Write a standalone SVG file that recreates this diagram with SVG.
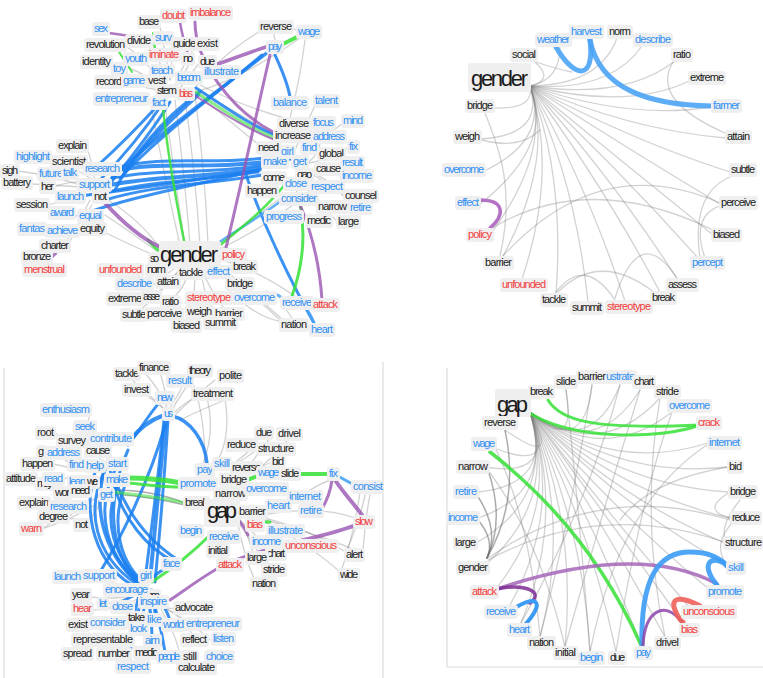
<svg xmlns="http://www.w3.org/2000/svg" width="763" height="678" viewBox="0 0 763 678">
<style>
text{font-family:"Liberation Sans",Arial,sans-serif;font-size:11px}
.bx{fill:#efefef;rx:3px;ry:3px}
.k{fill:#1a1a1a}.u{fill:#2f90f3}.r{fill:#f23c3c}
.big{font-size:22px}
.e path{fill:none;stroke-linecap:round}
.gy{stroke:#7d7d7d;stroke-opacity:.35;stroke-width:1.3}
.gd{stroke:#666;stroke-opacity:.55;stroke-width:1.5}
.bl{stroke:#1a7ff0;stroke-opacity:.85;stroke-width:3}
.lb{stroke:#4aa3f5;stroke-opacity:.85;stroke-width:3}
.gr{stroke:#35e035;stroke-opacity:.85;stroke-width:3}
.pu{stroke:#9a55b2;stroke-opacity:.8;stroke-width:3}
.rd{stroke:#f0605a;stroke-opacity:.9;stroke-width:5}
.frame{stroke:#dcdcdc;stroke-width:1.2}
</style>
<rect width="763" height="678" fill="#fff"/>
<g id="frames" class="frame">
<line x1="4" y1="368" x2="4" y2="678"/>
<line x1="383" y1="362" x2="383" y2="678"/>
<line x1="447" y1="368" x2="447" y2="667"/>
<line x1="447" y1="667" x2="763" y2="667"/>
</g>

<!-- ================= CONNECTORS ================= -->
<g id="connectors" class="e">
<!-- top-left gray -->
<g class="gy">
<path d="M165,105 Q175,180 185,245"/><path d="M175,100 Q185,180 190,245"/><path d="M185,98 Q195,170 200,245"/><path d="M150,100 Q165,180 180,245"/><path d="M195,95 Q205,170 208,245"/>
<path d="M108,200 Q140,220 160,248"/><path d="M105,215 Q135,235 158,252"/><path d="M100,230 Q130,245 156,256"/>
<path d="M80,185 Q50,175 18,171"/><path d="M80,187 Q55,185 31,184"/><path d="M85,195 Q65,200 48,205"/><path d="M90,200 Q75,230 69,244"/><path d="M92,205 Q70,240 52,255"/><path d="M95,180 Q90,155 87,148"/><path d="M90,178 Q70,165 50,158"/><path d="M95,182 Q70,180 54,187"/>
<path d="M185,266 Q170,280 160,290"/><path d="M190,266 Q185,290 170,300"/><path d="M195,266 Q195,300 190,320"/><path d="M200,266 Q210,290 225,310"/><path d="M205,266 Q220,275 240,282"/><path d="M182,266 Q160,295 140,310"/><path d="M178,266 Q150,285 145,296"/><path d="M200,266 Q205,300 215,320"/><path d="M175,266 Q160,272 150,275"/>
<path d="M218,248 Q250,220 285,195"/><path d="M218,250 Q260,230 300,200"/><path d="M215,262 Q250,290 283,320"/><path d="M215,258 Q260,270 300,300"/>
<path d="M195,88 Q240,115 275,135"/><path d="M195,92 Q235,125 265,150"/><path d="M200,85 Q250,110 300,122"/>
<path d="M111,62 Q140,70 160,85"/><path d="M122,82 Q140,86 157,90"/><path d="M125,45 Q145,60 160,80"/><path d="M151,41 Q160,60 165,80"/><path d="M159,22 Q165,50 170,80"/><path d="M173,44 Q172,60 170,80"/><path d="M197,44 Q185,60 175,85"/><path d="M200,62 Q190,75 180,88"/><path d="M193,59 Q185,70 178,85"/>
<path d="M262,30 Q220,55 195,88"/><path d="M300,38 Q240,80 195,92"/><path d="M305,40 Q300,80 290,118"/><path d="M292,28 Q298,30 300,32"/><path d="M276,41 Q272,35 276,30"/>
<path d="M300,160 Q320,140 343,123"/><path d="M300,165 Q330,160 349,147"/><path d="M305,170 Q330,185 345,196"/><path d="M300,180 Q320,205 338,222"/><path d="M295,185 Q300,205 307,221"/><path d="M300,170 Q330,175 350,205"/><path d="M305,165 Q325,150 318,138"/><path d="M290,160 Q300,140 315,105"/>
<path d="M282,303 Q290,315 295,323"/><path d="M258,300 Q275,315 282,322"/><path d="M230,292 Q260,320 285,322"/>
</g>
<!-- top-left blue -->
<g class="bl">
<path d="M160,103 C140,125 115,150 95,168"/><path d="M165,100 C145,130 120,160 100,180"/><path d="M170,102 C150,135 125,165 108,186"/>
<path d="M198,95 C170,120 140,150 125,172" stroke-width="4"/><path d="M200,92 C160,120 130,160 115,190"/>
<path d="M268,52 C220,90 150,140 110,180" stroke-width="3.5"/><path d="M262,55 C215,95 160,135 120,178"/>
<path d="M110,172 C160,160 200,170 265,162" stroke-width="4"/><path d="M112,178 C160,168 210,175 262,165"/><path d="M110,185 C160,175 210,178 260,168" stroke-width="4"/><path d="M108,192 C160,180 205,180 258,172"/><path d="M105,200 C155,185 200,185 262,175"/><path d="M115,168 C165,155 205,165 265,158"/><path d="M78,216 C120,200 170,190 260,170"/><path d="M75,197 C120,190 170,185 258,170"/>
<path d="M245,172 C265,230 290,280 315,325"/>
<path d="M275,55 C282,70 288,85 290,97"/>
<path d="M196,88 C230,110 250,125 275,135"/>
<path d="M265,162 C275,160 290,158 300,160"/>
</g>
<g class="lb">
<path d="M218,243 C245,225 270,210 285,198" stroke-width="2.5"/>
<path d="M255,295 C265,290 275,292 282,298"/><path d="M303,305 C310,312 313,320 315,326"/>
</g>
<g class="gr">
<path d="M163,108 C168,160 178,210 185,246" stroke-width="2.5"/>
<path d="M281,45 L299,36" stroke-width="4"/>
<path d="M300,203 C305,230 305,260 292,296"/>
<path d="M220,245 C245,225 270,205 290,178" stroke-width="2.5"/>
<path d="M117,48 C122,58 128,65 132,72" stroke-width="2"/>
<path d="M153,33 L155,48" stroke-width="2"/>
<path d="M196,92 C230,115 250,128 275,138" stroke-opacity=".6"/>
<path d="M148,240 C152,245 155,248 158,250"/>
</g>
<g class="pu">
<path d="M195,22 C195,60 230,110 275,133"/>
<path d="M215,65 C235,58 250,52 266,47" stroke-width="3.5"/>
<path d="M270,55 C255,120 240,190 225,252"/>
<path d="M105,203 C125,225 145,240 160,247" stroke-width="4"/>
<path d="M108,33 C125,35 140,38 155,38" stroke-width="2.5"/>
<path d="M180,22 C182,35 185,45 188,54" stroke-width="2.5"/>
<path d="M300,205 C315,240 320,270 322,300"/>
<path d="M194,95 C230,118 250,130 275,140" stroke-width="2"/>
<path d="M50,259 L56,253" stroke-width="3"/>
</g>

<!-- top-right -->
<g class="gy">
<path d="M530,86 Q555,80 535,62"/><path d="M530,86 Q600,85 617,38"/><path d="M530,86 Q610,92 642,46"/><path d="M530,86 Q625,100 675,61"/><path d="M530,86 Q630,110 689,81"/><path d="M530,86 Q630,120 711,107"/><path d="M530,86 Q630,130 726,138"/><path d="M530,86 Q630,140 730,172"/><path d="M530,86 Q630,150 720,204"/><path d="M530,86 Q620,160 712,234"/><path d="M530,86 Q615,165 698,258"/><path d="M530,86 Q610,175 678,280"/><path d="M530,86 Q600,180 660,292"/><path d="M530,86 Q585,180 625,301"/><path d="M530,86 Q575,180 588,302"/><path d="M530,86 Q565,175 556,294"/><path d="M530,86 Q558,170 522,279"/><path d="M530,86 Q555,160 502,258"/><path d="M530,86 Q552,150 492,232"/><path d="M530,86 Q555,145 480,204"/><path d="M530,86 Q550,140 484,171"/><path d="M530,86 Q545,135 481,139"/><path d="M530,86 Q535,110 492,108"/><path d="M530,86 Q560,80 560,47"/>
<path d="M485,113 C500,150 515,190 500,256"/><path d="M673,62 Q650,100 725,133"/><path d="M492,228 Q590,170 713,230"/><path d="M503,256 Q600,150 720,203"/><path d="M556,292 Q585,255 615,300"/><path d="M558,292 Q600,250 655,293"/><path d="M615,298 Q640,220 678,280"/><path d="M735,175 Q690,190 700,258"/><path d="M722,205 Q690,215 705,258"/><path d="M482,140 Q520,150 540,130"/><path d="M536,62 Q560,70 572,72"/>
</g>
<path d="M556,47 C575,80 595,80 590,40" stroke="#4aa3f5" stroke-opacity=".9" stroke-width="5"/>
<path d="M590,40 C600,90 650,105 712,106" stroke="#4aa3f5" stroke-opacity=".9" stroke-width="5"/>
<path d="M480,200 C505,200 505,215 490,228" stroke="#b472c4" stroke-width="3.5"/>

<!-- bottom-left gray -->
<g class="gy">
<path d="M127,376 Q150,395 165,410"/><path d="M145,373 Q160,390 167,408"/><path d="M160,372 Q165,390 168,405"/><path d="M185,382 Q178,395 170,408"/><path d="M195,375 Q180,395 172,410"/><path d="M200,395 Q185,402 175,412"/><path d="M215,380 Q190,400 176,414"/><path d="M230,398 Q200,410 180,420"/><path d="M140,392 Q155,400 165,410"/><path d="M205,392 C215,420 210,450 200,470"/><path d="M225,398 C230,430 225,450 215,465"/><path d="M190,375 C200,400 205,430 205,462"/>
<path d="M54,433 Q75,440 90,450"/><path d="M53,464 Q70,468 85,470"/><path d="M36,479 Q60,478 80,478"/><path d="M49,503 Q70,495 90,490"/><path d="M68,517 Q85,505 100,495"/><path d="M88,525 Q95,510 105,497"/><path d="M42,529 Q70,520 95,505"/><path d="M50,453 Q60,455 69,463"/><path d="M42,529 Q60,515 88,520"/><path d="M90,413 Q85,430 90,445"/>
<path d="M230,468 Q250,455 258,449"/><path d="M256,445 Q245,455 232,465"/><path d="M272,462 Q265,465 260,467"/><path d="M272,436 Q260,450 250,465"/><path d="M290,437 Q275,455 262,466"/>
<path d="M265,518 Q310,530 346,552"/><path d="M265,522 Q310,545 340,572"/><path d="M262,515 Q320,505 355,518"/><path d="M265,520 Q320,535 355,550"/><path d="M340,575 Q355,530 360,492"/><path d="M346,552 Q360,520 365,495"/><path d="M363,552 Q365,520 370,495"/><path d="M290,505 Q320,480 340,478"/>
<path d="M240,520 Q250,540 255,560"/><path d="M240,525 Q255,545 265,565"/><path d="M237,520 Q245,560 255,580"/><path d="M240,520 Q262,540 270,555"/>
<path d="M145,590 Q125,600 107,604"/><path d="M140,595 Q110,600 90,597"/><path d="M140,598 Q115,610 92,610"/><path d="M150,600 Q165,610 175,608"/><path d="M150,600 Q185,615 195,640"/><path d="M155,600 Q175,630 180,655"/><path d="M150,602 Q145,630 145,650"/><path d="M150,600 Q190,620 210,640"/>
</g>
<g class="gd">
<path d="M113,490 C140,490 165,495 185,503"/><path d="M113,494 C140,496 165,500 185,505"/>
</g>
<g class="bl">
<path d="M130,440 C140,428 150,420 162,416" stroke-width="4"/><path d="M128,445 C140,430 152,410 160,402"/>
<path d="M172,416 C190,420 205,440 207,464" stroke-width="3.5"/>
<path d="M166,420 C160,470 155,530 150,580" stroke-width="4"/><path d="M168,420 C165,470 160,530 155,582"/><path d="M164,420 C158,480 150,540 145,580"/>
<path d="M110,455 C90,500 100,550 140,585" stroke-width="3.5"/><path d="M115,470 C95,510 105,555 142,586"/><path d="M120,480 C100,520 115,560 145,585"/><path d="M105,470 C85,510 95,555 135,583"/><path d="M125,485 C110,525 120,565 148,586"/><path d="M100,460 C80,500 90,560 132,585"/><path d="M128,450 C105,500 110,555 140,583"/>
<path d="M115,480 C130,520 155,545 178,560"/><path d="M165,425 C150,480 120,540 100,572"/><path d="M110,470 C120,520 150,550 175,562"/>
<path d="M140,590 Q135,615 130,625"/><path d="M145,592 Q145,610 140,628"/><path d="M148,592 Q152,620 152,640"/><path d="M150,592 Q160,620 165,652"/><path d="M152,590 Q165,605 170,620"/><path d="M145,592 Q130,630 130,662"/><path d="M145,590 Q125,600 115,605"/><path d="M150,590 Q155,600 155,615"/>
<path d="M150,580 C160,570 170,565 175,566"/>
</g>
<g class="gr">
<path d="M128,478 C150,478 165,480 182,483" stroke-width="5"/><path d="M128,483 C150,485 165,487 182,487"/>
<path d="M113,492 C140,495 165,498 185,503" stroke-opacity=".55"/>
<path d="M247,480 L258,476" stroke-width="4"/>
<path d="M299,474 L329,474" stroke-width="4"/>
<path d="M152,582 C170,570 190,555 208,537"/>
<path d="M262,522 L270,522"/>
</g>
<path d="M338,476 C345,480 350,483 355,485" stroke="#5aaef7" stroke-width="3"/>
<g class="pu">
<path d="M335,480 C345,495 355,505 362,515" stroke-width="4"/>
<path d="M332,480 C330,495 325,505 318,515"/>
<path d="M356,525 C330,535 300,540 280,546" stroke-width="4"/>
<path d="M285,545 C260,550 240,558 222,565"/>
<path d="M222,566 C205,575 185,590 170,600"/>
<path d="M238,520 C243,525 246,530 248,535"/>
</g>

<!-- bottom-right -->
<g class="gy">
<path d="M530,412 Q577,455 566,390"/><path d="M530,412 Q584,458 592,385"/><path d="M530,412 Q591,458 620,385"/><path d="M530,412 Q596,460 640,390"/><path d="M530,412 Q601,462 660,398"/><path d="M530,412 Q604,465 672,412"/><path d="M530,412 Q613,473 708,443"/><path d="M530,412 Q618,479 728,467"/><path d="M530,412 Q618,485 728,492"/><path d="M530,412 Q618,492 730,518"/><path d="M530,412 Q617,498 725,543"/><path d="M530,412 Q618,505 728,565"/><path d="M530,412 Q613,510 710,590"/><path d="M530,412 Q608,514 690,608"/><path d="M530,412 Q607,518 685,625"/><path d="M530,412 Q602,521 665,637"/><path d="M530,412 Q596,524 642,648"/><path d="M530,412 Q590,525 616,652"/><path d="M530,412 Q583,525 590,652"/><path d="M530,412 Q577,524 565,647"/><path d="M530,412 Q571,521 540,637"/><path d="M530,412 Q566,518 520,625"/><path d="M530,412 Q563,510 510,605"/><path d="M530,412 Q560,510 495,590"/><path d="M530,412 Q557,503 485,565"/><path d="M530,412 Q555,498 476,543"/><path d="M530,412 Q555,492 478,518"/><path d="M530,412 Q555,485 477,492"/><path d="M530,412 Q557,479 485,467"/><path d="M530,412 Q562,470 505,430"/><path d="M530,412 Q560,475 492,447"/>
<path d="M488,560 Q600,500 724,542"/><path d="M488,558 Q600,480 730,520"/><path d="M495,447 Q530,520 540,637"/><path d="M488,470 Q540,540 565,647"/><path d="M730,492 Q700,510 730,518"/><path d="M740,500 Q720,525 725,540"/><path d="M735,520 Q710,545 728,566"/><path d="M728,467 Q650,480 620,520"/><path d="M710,443 Q620,500 590,652"/><path d="M672,412 Q640,500 616,652"/><path d="M660,398 Q640,520 665,637"/><path d="M640,390 Q600,520 565,647"/><path d="M592,385 Q570,520 540,637"/><path d="M566,390 Q580,520 590,652"/><path d="M620,385 Q590,500 520,625"/>
</g>
<g class="gd">
<path d="M505,430 Q520,500 487,558"/><path d="M488,470 Q505,520 487,558"/><path d="M478,520 Q495,540 487,558"/><path d="M477,495 Q500,530 487,558"/>
</g>
<g class="gr" stroke-width="4">
<path d="M528,412 C570,440 660,440 700,425"/>
<path d="M548,400 C560,420 590,430 700,425"/>
<path d="M490,452 Q590,530 641,645" stroke-width="3.5"/>
</g>
<path d="M497,589 C560,568 650,548 717,584" stroke="#a566b9" stroke-opacity=".85" stroke-width="3.5"/>
<path d="M497,589 C525,583 545,592 530,603" stroke="#7d2b94" stroke-opacity=".85" stroke-width="3.5"/>
<path d="M515,608 C535,595 548,600 523,627" stroke="#3d9cf5" stroke-width="4"/>
<path d="M642,648 C640,575 660,552 690,552 C710,552 720,558 727,566" stroke="#3d9cf5" stroke-opacity=".9" stroke-width="5"/>
<path d="M717,585 C700,565 710,553 727,565" stroke="#3d9cf5" stroke-opacity=".9" stroke-width="5"/>
<path d="M643,645 C645,610 665,600 682,622" stroke="#8d45aa" stroke-opacity=".85" stroke-width="3"/>
<path d="M700,606 C680,595 670,598 675,610 C678,618 682,622 683,622" class="rd"/>
</g>

<!-- ================= NODES: top-left ================= -->
<g id="tl-nodes">
<g id="tl-sex"><rect class="bx" x="92" y="22" width="18" height="14"/><text class="u" x="94" y="32" textLength="14">sex</text></g>
<g id="tl-base"><rect class="bx" x="137" y="15" width="24" height="14"/><text class="k" x="139" y="25" textLength="20">base</text></g>
<g id="tl-doubt"><rect class="bx" x="160" y="9" width="27" height="14"/><text class="r" x="162" y="19" textLength="23">doubt</text></g>
<g id="tl-imbalance"><rect class="bx" x="188" y="6" width="45" height="14"/><text class="r" x="190" y="16" textLength="41">imbalance</text></g>
<g id="tl-revolution"><rect class="bx" x="84" y="38" width="43" height="14"/><text class="k" x="86" y="48" textLength="39">revolution</text></g>
<g id="tl-divide"><rect class="bx" x="125" y="34" width="28" height="14"/><text class="k" x="127" y="44" textLength="24">divide</text></g>
<g id="tl-survey"><rect class="bx" x="153" y="31" width="21" height="14"/><text class="u" x="155" y="41" textLength="17">surv</text></g>
<g id="tl-guide"><rect class="bx" x="171" y="37" width="27" height="14"/><text class="k" x="173" y="47" textLength="23">guide</text></g>
<g id="tl-exist"><rect class="bx" x="195" y="37" width="25" height="14"/><text class="k" x="197" y="47" textLength="21">exist</text></g>
<g id="tl-eliminate"><rect class="bx" x="147" y="48" width="34" height="14"/><text class="r" x="149" y="58" textLength="30">iminate</text></g>
<g id="tl-no"><rect class="bx" x="181" y="52" width="14" height="14"/><text class="k" x="183" y="62" textLength="10">no</text></g>
<g id="tl-due"><rect class="bx" x="198" y="55" width="19" height="14"/><text class="k" x="200" y="65" textLength="15">due</text></g>
<g id="tl-youth"><rect class="bx" x="123" y="52" width="26" height="14"/><text class="u" x="125" y="62" textLength="22">youth</text></g>
<g id="tl-identity"><rect class="bx" x="80" y="55" width="33" height="14"/><text class="k" x="82" y="65" textLength="29">identity</text></g>
<g id="tl-toy"><rect class="bx" x="111" y="62" width="17" height="14"/><text class="u" x="113" y="72" textLength="13">toy</text></g>
<g id="tl-teach"><rect class="bx" x="149" y="64" width="26" height="14"/><text class="u" x="151" y="74" textLength="22">teach</text></g>
<g id="tl-become"><rect class="bx" x="175" y="71" width="28" height="14"/><text class="u" x="177" y="81" textLength="24">becom</text></g>
<g id="tl-illustrate"><rect class="bx" x="202" y="65" width="39" height="14"/><text class="u" x="204" y="75" textLength="35">illustrate</text></g>
<g id="tl-record"><rect class="bx" x="94" y="75" width="30" height="14"/><text class="k" x="96" y="85" textLength="26">record</text></g>
<g id="tl-invest"><rect class="bx" x="146" y="74" width="22" height="14"/><text class="k" x="148" y="84" textLength="18">vest</text></g>
<g id="tl-game"><rect class="bx" x="121" y="74" width="26" height="14"/><text class="u" x="123" y="84" textLength="22">game</text></g>
<g id="tl-stem"><rect class="bx" x="155" y="84" width="24" height="14"/><text class="k" x="157" y="94" textLength="20">stem</text></g>
<g id="tl-bias"><rect class="bx" x="177" y="87" width="18" height="14"/><text class="r" x="179" y="97" textLength="14">bias</text></g>
<g id="tl-entrepreneur"><rect class="bx" x="93" y="92" width="57" height="14"/><text class="u" x="95" y="102" textLength="53">entrepreneur</text></g>
<g id="tl-fact"><rect class="bx" x="150" y="96" width="18" height="14"/><text class="u" x="152" y="106" textLength="14">fact</text></g>
<g id="tl-reverse"><rect class="bx" x="258" y="20" width="36" height="14"/><text class="k" x="260" y="30" textLength="32">reverse</text></g>
<g id="tl-wage"><rect class="bx" x="296" y="25" width="26" height="14"/><text class="u" x="298" y="35" textLength="22">wage</text></g>
<g id="tl-pay"><rect class="bx" x="266" y="40" width="18" height="14"/><text class="u" x="268" y="50" textLength="14">pay</text></g>
<g id="tl-balance"><rect class="bx" x="271" y="96" width="38" height="14"/><text class="u" x="273" y="106" textLength="34">balance</text></g>
<g id="tl-talent"><rect class="bx" x="313" y="94" width="27" height="14"/><text class="u" x="315" y="104" textLength="23">talent</text></g>
<g id="tl-diverse"><rect class="bx" x="277" y="117" width="34" height="14"/><text class="k" x="279" y="127" textLength="30">diverse</text></g>
<g id="tl-focus"><rect class="bx" x="311" y="116" width="25" height="14"/><text class="u" x="313" y="126" textLength="21">focus</text></g>
<g id="tl-mind"><rect class="bx" x="341" y="114" width="24" height="14"/><text class="u" x="343" y="124" textLength="20">mind</text></g>
<g id="tl-increase"><rect class="bx" x="273" y="129" width="40" height="14"/><text class="k" x="275" y="139" textLength="36">increase</text></g>
<g id="tl-address"><rect class="bx" x="311" y="130" width="36" height="14"/><text class="u" x="313" y="140" textLength="32">address</text></g>
<g id="tl-need"><rect class="bx" x="256" y="141" width="25" height="14"/><text class="k" x="258" y="151" textLength="21">need</text></g>
<g id="tl-find"><rect class="bx" x="300" y="141" width="19" height="14"/><text class="u" x="302" y="151" textLength="15">find</text></g>
<g id="tl-girl"><rect class="bx" x="279" y="145" width="17" height="14"/><text class="u" x="281" y="155" textLength="13">girl</text></g>
<g id="tl-fix"><rect class="bx" x="347" y="140" width="13" height="14"/><text class="u" x="349" y="150" textLength="9">fix</text></g>
<g id="tl-global"><rect class="bx" x="317" y="147" width="29" height="14"/><text class="k" x="319" y="157" textLength="25">global</text></g>
<g id="tl-make"><rect class="bx" x="261" y="155" width="28" height="14"/><text class="u" x="263" y="165" textLength="24">make</text></g>
<g id="tl-get"><rect class="bx" x="291" y="155" width="18" height="14"/><text class="u" x="293" y="165" textLength="14">get</text></g>
<g id="tl-result"><rect class="bx" x="340" y="156" width="25" height="14"/><text class="u" x="342" y="166" textLength="21">result</text></g>
<g id="tl-cause"><rect class="bx" x="314" y="162" width="29" height="14"/><text class="k" x="316" y="172" textLength="25">cause</text></g>
<g id="tl-gap"><rect class="bx" x="295" y="168" width="19" height="14"/><text class="k" x="297" y="178" textLength="15">gap</text></g>
<g id="tl-income"><rect class="bx" x="340" y="169" width="34" height="14"/><text class="u" x="342" y="179" textLength="30">income</text></g>
<g id="tl-come"><rect class="bx" x="261" y="171" width="26" height="14"/><text class="k" x="263" y="181" textLength="22">come</text></g>
<g id="tl-close"><rect class="bx" x="283" y="177" width="26" height="14"/><text class="u" x="285" y="187" textLength="22">close</text></g>
<g id="tl-respect"><rect class="bx" x="309" y="180" width="36" height="14"/><text class="u" x="311" y="190" textLength="32">respect</text></g>
<g id="tl-happen"><rect class="bx" x="245" y="184" width="34" height="14"/><text class="k" x="247" y="194" textLength="30">happen</text></g>
<g id="tl-counsel"><rect class="bx" x="343" y="189" width="36" height="14"/><text class="k" x="345" y="199" textLength="32">counsel</text></g>
<g id="tl-consider"><rect class="bx" x="279" y="192" width="40" height="14"/><text class="u" x="281" y="202" textLength="36">consider</text></g>
<g id="tl-narrow"><rect class="bx" x="316" y="200" width="33" height="14"/><text class="k" x="318" y="210" textLength="29">narrow</text></g>
<g id="tl-retire"><rect class="bx" x="348" y="201" width="25" height="14"/><text class="u" x="350" y="211" textLength="21">retire</text></g>
<g id="tl-progress"><rect class="bx" x="264" y="210" width="40" height="14"/><text class="u" x="266" y="220" textLength="36">progress</text></g>
<g id="tl-medic"><rect class="bx" x="305" y="214" width="28" height="14"/><text class="k" x="307" y="224" textLength="24">medic</text></g>
<g id="tl-large"><rect class="bx" x="336" y="215" width="25" height="14"/><text class="k" x="338" y="225" textLength="21">large</text></g>
<g id="tl-explain"><rect class="bx" x="56" y="139" width="33" height="14"/><text class="k" x="58" y="149" textLength="29">explain</text></g>
<g id="tl-highlight"><rect class="bx" x="14" y="150" width="38" height="14"/><text class="u" x="16" y="160" textLength="34">highlight</text></g>
<g id="tl-scientist"><rect class="bx" x="50" y="155" width="38" height="14"/><text class="k" x="52" y="165" textLength="34">scientist</text></g>
<g id="tl-research"><rect class="bx" x="83" y="162" width="39" height="14"/><text class="u" x="85" y="172" textLength="35">research</text></g>
<g id="tl-sigh"><rect class="bx" x="0" y="164" width="20" height="14"/><text class="k" x="2" y="174" textLength="16">sigh</text></g>
<g id="tl-future"><rect class="bx" x="37" y="167" width="28" height="14"/><text class="u" x="39" y="177" textLength="24">future</text></g>
<g id="tl-talk"><rect class="bx" x="61" y="166" width="18" height="14"/><text class="u" x="63" y="176" textLength="14">talk</text></g>
<g id="tl-battery"><rect class="bx" x="1" y="176" width="32" height="14"/><text class="k" x="3" y="186" textLength="28">battery</text></g>
<g id="tl-her"><rect class="bx" x="39" y="180" width="17" height="14"/><text class="k" x="41" y="190" textLength="13">her</text></g>
<g id="tl-support"><rect class="bx" x="77" y="178" width="35" height="14"/><text class="u" x="79" y="188" textLength="31">support</text></g>
<g id="tl-launch"><rect class="bx" x="55" y="190" width="31" height="14"/><text class="u" x="57" y="200" textLength="27">launch</text></g>
<g id="tl-not"><rect class="bx" x="92" y="190" width="17" height="14"/><text class="k" x="94" y="200" textLength="13">not</text></g>
<g id="tl-session"><rect class="bx" x="14" y="198" width="36" height="14"/><text class="k" x="16" y="208" textLength="32">session</text></g>
<g id="tl-award"><rect class="bx" x="48" y="206" width="28" height="14"/><text class="u" x="50" y="216" textLength="24">award</text></g>
<g id="tl-equal"><rect class="bx" x="77" y="209" width="27" height="14"/><text class="u" x="79" y="219" textLength="23">equal</text></g>
<g id="tl-fantasy"><rect class="bx" x="17" y="222" width="30" height="14"/><text class="u" x="19" y="232" textLength="26">fantas</text></g>
<g id="tl-achieve"><rect class="bx" x="45" y="224" width="35" height="14"/><text class="u" x="47" y="234" textLength="31">achieve</text></g>
<g id="tl-equity"><rect class="bx" x="78" y="222" width="29" height="14"/><text class="k" x="80" y="232" textLength="25">equity</text></g>
<g id="tl-charter"><rect class="bx" x="39" y="239" width="32" height="14"/><text class="k" x="41" y="249" textLength="28">charter</text></g>
<g id="tl-bronze"><rect class="bx" x="21" y="250" width="32" height="14"/><text class="k" x="23" y="260" textLength="28">bronze</text></g>
<g id="tl-menstrual"><rect class="bx" x="22" y="263" width="45" height="14"/><text class="r" x="24" y="273" textLength="41">menstrual</text></g>
<g id="tl-social"><rect class="bx" x="148" y="252" width="13" height="14"/><text class="k" x="150" y="262" textLength="9">so</text></g>
<g id="tl-gender"><rect class="bx" x="159" y="241" width="62" height="28"/><text class="k big" x="160" y="262" textLength="58">gender</text></g>
<g id="tl-policy"><rect class="bx" x="220" y="248" width="27" height="14"/><text class="r" x="222" y="258" textLength="23">policy</text></g>
<g id="tl-break"><rect class="bx" x="231" y="260" width="27" height="14"/><text class="k" x="233" y="270" textLength="23">break</text></g>
<g id="tl-unfounded"><rect class="bx" x="97" y="263" width="47" height="14"/><text class="r" x="99" y="273" textLength="43">unfounded</text></g>
<g id="tl-norm"><rect class="bx" x="145" y="263" width="23" height="14"/><text class="k" x="147" y="273" textLength="19">norm</text></g>
<g id="tl-tackle"><rect class="bx" x="177" y="266" width="28" height="14"/><text class="k" x="179" y="276" textLength="24">tackle</text></g>
<g id="tl-effect"><rect class="bx" x="205" y="265" width="27" height="14"/><text class="u" x="207" y="275" textLength="23">effect</text></g>
<g id="tl-describe"><rect class="bx" x="115" y="277" width="39" height="14"/><text class="u" x="117" y="287" textLength="35">describe</text></g>
<g id="tl-attain"><rect class="bx" x="155" y="275" width="26" height="14"/><text class="k" x="157" y="285" textLength="22">attain</text></g>
<g id="tl-bridge"><rect class="bx" x="225" y="277" width="30" height="14"/><text class="k" x="227" y="287" textLength="26">bridge</text></g>
<g id="tl-extreme"><rect class="bx" x="106" y="292" width="38" height="14"/><text class="k" x="108" y="302" textLength="34">extreme</text></g>
<g id="tl-assess"><rect class="bx" x="141" y="290" width="21" height="14"/><text class="k" x="143" y="300" textLength="17">asse</text></g>
<g id="tl-ratio"><rect class="bx" x="160" y="295" width="21" height="14"/><text class="k" x="162" y="305" textLength="17">ratio</text></g>
<g id="tl-stereotype"><rect class="bx" x="185" y="291" width="48" height="14"/><text class="r" x="187" y="301" textLength="44">stereotype</text></g>
<g id="tl-overcome"><rect class="bx" x="232" y="291" width="45" height="14"/><text class="u" x="234" y="301" textLength="41">overcome</text></g>
<g id="tl-receive"><rect class="bx" x="280" y="296" width="34" height="14"/><text class="u" x="282" y="306" textLength="30">receive</text></g>
<g id="tl-attack"><rect class="bx" x="311" y="298" width="29" height="14"/><text class="r" x="313" y="308" textLength="25">attack</text></g>
<g id="tl-subtle"><rect class="bx" x="120" y="308" width="28" height="14"/><text class="k" x="122" y="318" textLength="24">subtle</text></g>
<g id="tl-perceive"><rect class="bx" x="145" y="307" width="39" height="14"/><text class="k" x="147" y="317" textLength="35">perceive</text></g>
<g id="tl-weigh"><rect class="bx" x="185" y="305" width="29" height="14"/><text class="k" x="187" y="315" textLength="25">weigh</text></g>
<g id="tl-barrier"><rect class="bx" x="213" y="307" width="32" height="14"/><text class="k" x="215" y="317" textLength="28">barrier</text></g>
<g id="tl-biased"><rect class="bx" x="171" y="319" width="31" height="14"/><text class="k" x="173" y="329" textLength="27">biased</text></g>
<g id="tl-summit"><rect class="bx" x="203" y="316" width="35" height="14"/><text class="k" x="205" y="326" textLength="31">summit</text></g>
<g id="tl-nation"><rect class="bx" x="279" y="318" width="30" height="14"/><text class="k" x="281" y="328" textLength="26">nation</text></g>
<g id="tl-heart"><rect class="bx" x="309" y="323" width="26" height="14"/><text class="u" x="311" y="333" textLength="22">heart</text></g>
</g>

<!-- ================= NODES: top-right ================= -->
<g id="tr-nodes">
<g id="tr-weather"><rect class="bx" x="535" y="33" width="37" height="14"/><text class="u" x="537" y="43" textLength="33">weather</text></g>
<g id="tr-harvest"><rect class="bx" x="569" y="25" width="35" height="14"/><text class="u" x="571" y="35" textLength="31">harvest</text></g>
<g id="tr-norm"><rect class="bx" x="607" y="25" width="26" height="14"/><text class="k" x="609" y="35" textLength="22">norm</text></g>
<g id="tr-describe"><rect class="bx" x="633" y="33" width="40" height="14"/><text class="u" x="635" y="43" textLength="36">describe</text></g>
<g id="tr-social"><rect class="bx" x="510" y="48" width="28" height="14"/><text class="k" x="512" y="58" textLength="24">social</text></g>
<g id="tr-ratio"><rect class="bx" x="671" y="48" width="22" height="14"/><text class="k" x="673" y="58" textLength="18">ratio</text></g>
<g id="tr-gender"><rect class="bx" x="468" y="63" width="63" height="29"/><text class="k big" x="471" y="86" textLength="57">gender</text></g>
<g id="tr-extreme"><rect class="bx" x="688" y="71" width="38" height="14"/><text class="k" x="690" y="81" textLength="34">extreme</text></g>
<g id="tr-bridge"><rect class="bx" x="465" y="99" width="30" height="14"/><text class="k" x="467" y="109" textLength="26">bridge</text></g>
<g id="tr-farmer"><rect class="bx" x="711" y="99" width="31" height="14"/><text class="u" x="713" y="109" textLength="27">farmer</text></g>
<g id="tr-weigh"><rect class="bx" x="453" y="130" width="29" height="14"/><text class="k" x="455" y="140" textLength="25">weigh</text></g>
<g id="tr-attain"><rect class="bx" x="725" y="130" width="27" height="14"/><text class="k" x="727" y="140" textLength="23">attain</text></g>
<g id="tr-overcome"><rect class="bx" x="442" y="163" width="44" height="14"/><text class="u" x="444" y="173" textLength="40">overcome</text></g>
<g id="tr-subtle"><rect class="bx" x="729" y="163" width="28" height="14"/><text class="k" x="731" y="173" textLength="24">subtle</text></g>
<g id="tr-effect"><rect class="bx" x="455" y="196" width="26" height="14"/><text class="u" x="457" y="206" textLength="22">effect</text></g>
<g id="tr-perceive"><rect class="bx" x="719" y="196" width="39" height="14"/><text class="k" x="721" y="206" textLength="35">perceive</text></g>
<g id="tr-policy"><rect class="bx" x="466" y="228" width="28" height="14"/><text class="r" x="468" y="238" textLength="24">policy</text></g>
<g id="tr-biased"><rect class="bx" x="711" y="228" width="31" height="14"/><text class="k" x="713" y="238" textLength="27">biased</text></g>
<g id="tr-barrier"><rect class="bx" x="483" y="256" width="31" height="14"/><text class="k" x="485" y="266" textLength="27">barrier</text></g>
<g id="tr-percept"><rect class="bx" x="690" y="256" width="35" height="14"/><text class="u" x="692" y="266" textLength="31">percept</text></g>
<g id="tr-unfounded"><rect class="bx" x="500" y="278" width="48" height="14"/><text class="r" x="502" y="288" textLength="44">unfounded</text></g>
<g id="tr-assess"><rect class="bx" x="666" y="278" width="33" height="14"/><text class="k" x="668" y="288" textLength="29">assess</text></g>
<g id="tr-tackle"><rect class="bx" x="540" y="293" width="28" height="14"/><text class="k" x="542" y="303" textLength="24">tackle</text></g>
<g id="tr-break"><rect class="bx" x="650" y="291" width="27" height="14"/><text class="k" x="652" y="301" textLength="23">break</text></g>
<g id="tr-summit"><rect class="bx" x="570" y="301" width="34" height="14"/><text class="k" x="572" y="311" textLength="30">summit</text></g>
<g id="tr-stereotype"><rect class="bx" x="605" y="300" width="48" height="14"/><text class="r" x="607" y="310" textLength="44">stereotype</text></g>
</g>

<!-- ================= NODES: bottom-left ================= -->
<g id="bl-nodes">
<g id="bl-tackle"><rect class="bx" x="113" y="367" width="28" height="14"/><text class="k" x="115" y="377" textLength="24">tackle</text></g>
<g id="bl-finance"><rect class="bx" x="137" y="361" width="34" height="14"/><text class="k" x="139" y="371" textLength="30">finance</text></g>
<g id="bl-theory"><rect class="bx" x="187" y="364" width="26" height="14"/><text class="k" x="189" y="374" textLength="22">theory</text></g>
<g id="bl-polite"><rect class="bx" x="217" y="369" width="27" height="14"/><text class="k" x="219" y="379" textLength="23">polite</text></g>
<g id="bl-result"><rect class="bx" x="166" y="374" width="28" height="14"/><text class="u" x="168" y="384" textLength="24">result</text></g>
<g id="bl-invest"><rect class="bx" x="122" y="383" width="29" height="14"/><text class="k" x="124" y="393" textLength="25">invest</text></g>
<g id="bl-treatment"><rect class="bx" x="191" y="387" width="44" height="14"/><text class="k" x="193" y="397" textLength="40">treatment</text></g>
<g id="bl-new"><rect class="bx" x="155" y="391" width="20" height="14"/><text class="u" x="157" y="401" textLength="16">new</text></g>
<g id="bl-us"><rect class="bx" x="162" y="407" width="13" height="14"/><text class="u" x="164" y="417" textLength="9">us</text></g>
<g id="bl-enthusiasm"><rect class="bx" x="40" y="403" width="52" height="14"/><text class="u" x="42" y="413" textLength="48">enthusiasm</text></g>
<g id="bl-seek"><rect class="bx" x="73" y="420" width="24" height="14"/><text class="u" x="75" y="430" textLength="20">seek</text></g>
<g id="bl-root"><rect class="bx" x="35" y="426" width="21" height="14"/><text class="k" x="37" y="436" textLength="17">root</text></g>
<g id="bl-survey"><rect class="bx" x="56" y="434" width="32" height="14"/><text class="k" x="58" y="444" textLength="28">survey</text></g>
<g id="bl-contribute"><rect class="bx" x="88" y="432" width="46" height="14"/><text class="u" x="90" y="442" textLength="42">contribute</text></g>
<g id="bl-g"><rect class="bx" x="36" y="445" width="11" height="14"/><text class="k" x="38" y="455" textLength="7">g</text></g>
<g id="bl-address"><rect class="bx" x="45" y="446" width="37" height="14"/><text class="u" x="47" y="456" textLength="33">address</text></g>
<g id="bl-cause"><rect class="bx" x="84" y="444" width="28" height="14"/><text class="k" x="86" y="454" textLength="24">cause</text></g>
<g id="bl-happen"><rect class="bx" x="20" y="457" width="35" height="14"/><text class="k" x="22" y="467" textLength="31">happen</text></g>
<g id="bl-find"><rect class="bx" x="67" y="458" width="19" height="14"/><text class="u" x="69" y="468" textLength="15">find</text></g>
<g id="bl-help"><rect class="bx" x="84" y="459" width="22" height="14"/><text class="u" x="86" y="469" textLength="18">help</text></g>
<g id="bl-start"><rect class="bx" x="106" y="457" width="23" height="14"/><text class="u" x="108" y="467" textLength="19">start</text></g>
<g id="bl-attitude"><rect class="bx" x="4" y="472" width="34" height="14"/><text class="k" x="6" y="482" textLength="30">attitude</text></g>
<g id="bl-may"><rect class="bx" x="35" y="477" width="20" height="14"/><text class="k" x="37" y="487" textLength="16">may</text></g>
<g id="bl-read"><rect class="bx" x="42" y="472" width="23" height="14"/><text class="u" x="44" y="482" textLength="19">read</text></g>
<g id="bl-learn"><rect class="bx" x="67" y="475" width="21" height="14"/><text class="u" x="69" y="485" textLength="17">lean</text></g>
<g id="bl-we"><rect class="bx" x="85" y="475" width="15" height="14"/><text class="k" x="87" y="485" textLength="11">we</text></g>
<g id="bl-make"><rect class="bx" x="104" y="473" width="26" height="14"/><text class="u" x="106" y="483" textLength="22">make</text></g>
<g id="bl-work"><rect class="bx" x="53" y="486" width="19" height="14"/><text class="k" x="55" y="496" textLength="15">wor</text></g>
<g id="bl-need"><rect class="bx" x="69" y="484" width="23" height="14"/><text class="k" x="71" y="494" textLength="19">need</text></g>
<g id="bl-get"><rect class="bx" x="98" y="488" width="17" height="14"/><text class="u" x="100" y="498" textLength="13">get</text></g>
<g id="bl-explain"><rect class="bx" x="17" y="496" width="34" height="14"/><text class="k" x="19" y="506" textLength="30">explain</text></g>
<g id="bl-research"><rect class="bx" x="48" y="500" width="41" height="14"/><text class="u" x="50" y="510" textLength="37">research</text></g>
<g id="bl-degree"><rect class="bx" x="37" y="510" width="33" height="14"/><text class="k" x="39" y="520" textLength="29">degree</text></g>
<g id="bl-not"><rect class="bx" x="73" y="518" width="17" height="14"/><text class="k" x="75" y="528" textLength="13">not</text></g>
<g id="bl-warn"><rect class="bx" x="19" y="522" width="25" height="14"/><text class="r" x="21" y="532" textLength="21">warn</text></g>
<g id="bl-due"><rect class="bx" x="254" y="426" width="20" height="14"/><text class="k" x="256" y="436" textLength="16">due</text></g>
<g id="bl-drivel"><rect class="bx" x="276" y="427" width="27" height="14"/><text class="k" x="278" y="437" textLength="23">drivel</text></g>
<g id="bl-reduce"><rect class="bx" x="225" y="438" width="33" height="14"/><text class="k" x="227" y="448" textLength="29">reduce</text></g>
<g id="bl-structure"><rect class="bx" x="256" y="442" width="40" height="14"/><text class="k" x="258" y="452" textLength="36">structure</text></g>
<g id="bl-bid"><rect class="bx" x="270" y="455" width="16" height="14"/><text class="k" x="272" y="465" textLength="12">bid</text></g>
<g id="bl-reverse"><rect class="bx" x="230" y="461" width="33" height="14"/><text class="k" x="232" y="471" textLength="29">reverse</text></g>
<g id="bl-pay"><rect class="bx" x="195" y="463" width="20" height="14"/><text class="u" x="197" y="473" textLength="16">pay</text></g>
<g id="bl-skill"><rect class="bx" x="212" y="457" width="20" height="14"/><text class="u" x="214" y="467" textLength="16">skill</text></g>
<g id="bl-promote"><rect class="bx" x="178" y="477" width="40" height="14"/><text class="u" x="180" y="487" textLength="36">promote</text></g>
<g id="bl-bridge"><rect class="bx" x="219" y="473" width="30" height="14"/><text class="k" x="221" y="483" textLength="26">bridge</text></g>
<g id="bl-wage"><rect class="bx" x="256" y="466" width="25" height="14"/><text class="u" x="258" y="476" textLength="21">wage</text></g>
<g id="bl-slide"><rect class="bx" x="279" y="467" width="22" height="14"/><text class="k" x="281" y="477" textLength="18">slide</text></g>
<g id="bl-fix"><rect class="bx" x="327" y="467" width="13" height="14"/><text class="u" x="329" y="477" textLength="9">fix</text></g>
<g id="bl-consist"><rect class="bx" x="351" y="480" width="32" height="14"/><text class="u" x="353" y="490" textLength="30">consist</text></g>
<g id="bl-narrow"><rect class="bx" x="213" y="487" width="35" height="14"/><text class="k" x="215" y="497" textLength="31">narrow</text></g>
<g id="bl-overcome"><rect class="bx" x="244" y="482" width="45" height="14"/><text class="u" x="246" y="492" textLength="41">overcome</text></g>
<g id="bl-internet"><rect class="bx" x="287" y="490" width="36" height="14"/><text class="u" x="289" y="500" textLength="32">internet</text></g>
<g id="bl-break"><rect class="bx" x="183" y="496" width="27" height="14"/><text class="k" x="185" y="506" textLength="23">break</text></g>
<g id="bl-heart"><rect class="bx" x="265" y="499" width="27" height="14"/><text class="u" x="267" y="509" textLength="23">heart</text></g>
<g id="bl-retire"><rect class="bx" x="298" y="504" width="26" height="14"/><text class="u" x="300" y="514" textLength="22">retire</text></g>
<g id="bl-gap"><rect class="bx" x="204" y="499" width="36" height="28"/><text class="k big" x="207" y="518" textLength="30">gap</text></g>
<g id="bl-barrier"><rect class="bx" x="237" y="505" width="31" height="14"/><text class="k" x="239" y="515" textLength="27">barrier</text></g>
<g id="bl-slow"><rect class="bx" x="353" y="515" width="22" height="14"/><text class="r" x="355" y="525" textLength="18">slow</text></g>
<g id="bl-bias"><rect class="bx" x="245" y="518" width="20" height="14"/><text class="r" x="247" y="528" textLength="16">bias</text></g>
<g id="bl-illustrate"><rect class="bx" x="266" y="524" width="39" height="14"/><text class="u" x="268" y="534" textLength="35">illustrate</text></g>
<g id="bl-begin"><rect class="bx" x="178" y="524" width="26" height="14"/><text class="u" x="180" y="534" textLength="22">begin</text></g>
<g id="bl-receive"><rect class="bx" x="207" y="530" width="34" height="14"/><text class="u" x="209" y="540" textLength="30">receive</text></g>
<g id="bl-income"><rect class="bx" x="250" y="535" width="33" height="14"/><text class="u" x="252" y="545" textLength="29">income</text></g>
<g id="bl-unconscious"><rect class="bx" x="283" y="539" width="56" height="14"/><text class="r" x="285" y="549" textLength="52">unconscious</text></g>
<g id="bl-initial"><rect class="bx" x="206" y="544" width="24" height="14"/><text class="k" x="208" y="554" textLength="20">initial</text></g>
<g id="bl-chart"><rect class="bx" x="265" y="547" width="22" height="14"/><text class="k" x="267" y="557" textLength="18">chart</text></g>
<g id="bl-alert"><rect class="bx" x="344" y="548" width="21" height="14"/><text class="k" x="346" y="558" textLength="17">alert</text></g>
<g id="bl-large"><rect class="bx" x="245" y="551" width="24" height="14"/><text class="k" x="247" y="561" textLength="20">large</text></g>
<g id="bl-attack"><rect class="bx" x="216" y="558" width="28" height="14"/><text class="r" x="218" y="568" textLength="24">attack</text></g>
<g id="bl-stride"><rect class="bx" x="261" y="563" width="26" height="14"/><text class="k" x="263" y="573" textLength="22">stride</text></g>
<g id="bl-wide"><rect class="bx" x="338" y="568" width="22" height="14"/><text class="k" x="340" y="578" textLength="18">wide</text></g>
<g id="bl-nation"><rect class="bx" x="250" y="577" width="28" height="14"/><text class="k" x="252" y="587" textLength="24">nation</text></g>
<g id="bl-face"><rect class="bx" x="161" y="557" width="21" height="14"/><text class="u" x="163" y="567" textLength="17">face</text></g>
<g id="bl-launch"><rect class="bx" x="52" y="570" width="31" height="14"/><text class="u" x="54" y="580" textLength="27">launch</text></g>
<g id="bl-support"><rect class="bx" x="81" y="569" width="36" height="14"/><text class="u" x="83" y="579" textLength="32">support</text></g>
<g id="bl-girl"><rect class="bx" x="138" y="569" width="16" height="14"/><text class="u" x="140" y="579" textLength="12">girl</text></g>
<g id="bl-stem"><rect class="bx" x="141" y="589" width="20" height="14"/><text class="k" x="143" y="599" textLength="17">stem</text></g>
<g id="bl-encourage"><rect class="bx" x="103" y="583" width="47" height="14"/><text class="u" x="105" y="593" textLength="43">encourage</text></g>
<g id="bl-year"><rect class="bx" x="70" y="588" width="22" height="14"/><text class="k" x="72" y="598" textLength="18">year</text></g>
<g id="bl-hear"><rect class="bx" x="71" y="602" width="23" height="14"/><text class="r" x="73" y="612" textLength="19">hear</text></g>
<g id="bl-let"><rect class="bx" x="97" y="597" width="12" height="14"/><text class="u" x="99" y="607" textLength="8">let</text></g>
<g id="bl-close"><rect class="bx" x="110" y="600" width="25" height="14"/><text class="u" x="112" y="610" textLength="21">close</text></g>
<g id="bl-inspire"><rect class="bx" x="138" y="595" width="31" height="14"/><text class="u" x="140" y="605" textLength="27">inspire</text></g>
<g id="bl-advocate"><rect class="bx" x="173" y="601" width="42" height="14"/><text class="k" x="175" y="611" textLength="38">advocate</text></g>
<g id="bl-take"><rect class="bx" x="126" y="611" width="21" height="14"/><text class="k" x="128" y="621" textLength="17">take</text></g>
<g id="bl-exist"><rect class="bx" x="66" y="618" width="24" height="14"/><text class="k" x="68" y="628" textLength="20">exist</text></g>
<g id="bl-consider"><rect class="bx" x="88" y="616" width="40" height="14"/><text class="u" x="90" y="626" textLength="36">consider</text></g>
<g id="bl-like"><rect class="bx" x="145" y="613" width="19" height="14"/><text class="u" x="147" y="623" textLength="15">like</text></g>
<g id="bl-world"><rect class="bx" x="161" y="618" width="25" height="14"/><text class="u" x="163" y="628" textLength="21">world</text></g>
<g id="bl-entrepreneur"><rect class="bx" x="184" y="617" width="58" height="14"/><text class="u" x="186" y="627" textLength="54">entrepreneur</text></g>
<g id="bl-look"><rect class="bx" x="128" y="622" width="21" height="14"/><text class="u" x="130" y="632" textLength="17">look</text></g>
<g id="bl-representable"><rect class="bx" x="71" y="633" width="64" height="14"/><text class="k" x="73" y="643" textLength="60">representable</text></g>
<g id="bl-aim"><rect class="bx" x="143" y="634" width="19" height="14"/><text class="u" x="145" y="644" textLength="15">aim</text></g>
<g id="bl-reflect"><rect class="bx" x="180" y="633" width="29" height="14"/><text class="k" x="182" y="643" textLength="25">reflect</text></g>
<g id="bl-listen"><rect class="bx" x="211" y="632" width="25" height="14"/><text class="u" x="213" y="642" textLength="21">listen</text></g>
<g id="bl-spread"><rect class="bx" x="61" y="647" width="33" height="14"/><text class="k" x="63" y="657" textLength="29">spread</text></g>
<g id="bl-number"><rect class="bx" x="96" y="647" width="36" height="14"/><text class="k" x="98" y="657" textLength="32">number</text></g>
<g id="bl-medic"><rect class="bx" x="133" y="646" width="27" height="14"/><text class="k" x="135" y="656" textLength="23">medic</text></g>
<g id="bl-people"><rect class="bx" x="156" y="650" width="26" height="14"/><text class="u" x="158" y="660" textLength="22">people</text></g>
<g id="bl-still"><rect class="bx" x="181" y="650" width="18" height="14"/><text class="k" x="183" y="660" textLength="14">still</text></g>
<g id="bl-choice"><rect class="bx" x="204" y="650" width="31" height="14"/><text class="u" x="206" y="660" textLength="27">choice</text></g>
<g id="bl-respect"><rect class="bx" x="115" y="660" width="36" height="14"/><text class="u" x="117" y="670" textLength="32">respect</text></g>
<g id="bl-calculate"><rect class="bx" x="176" y="661" width="41" height="14"/><text class="k" x="178" y="671" textLength="37">calculate</text></g>
</g>

<!-- ================= NODES: bottom-right ================= -->
<g id="br-nodes">
<g id="br-gap"><rect class="bx" x="495" y="389" width="36" height="28"/><text class="k big" x="497" y="412" textLength="31">gap</text></g>
<g id="br-break"><rect class="bx" x="528" y="385" width="27" height="14"/><text class="k" x="530" y="395" textLength="23">break</text></g>
<g id="br-slide"><rect class="bx" x="554" y="375" width="24" height="14"/><text class="k" x="556" y="385" textLength="20">slide</text></g>
<g id="br-illustrate"><rect class="bx" x="604" y="370" width="33" height="14"/><text class="u" x="606" y="380" textLength="29">ustrate</text></g>
<g id="br-barrier"><rect class="bx" x="576" y="370" width="30" height="14"/><text class="k" x="578" y="380" textLength="28">barrier</text></g>
<g id="br-chart"><rect class="bx" x="632" y="375" width="24" height="14"/><text class="k" x="634" y="385" textLength="20">chart</text></g>
<g id="br-stride"><rect class="bx" x="654" y="385" width="27" height="14"/><text class="k" x="656" y="395" textLength="23">stride</text></g>
<g id="br-overcome"><rect class="bx" x="667" y="399" width="45" height="14"/><text class="u" x="669" y="409" textLength="41">overcome</text></g>
<g id="br-reverse"><rect class="bx" x="482" y="416" width="36" height="14"/><text class="k" x="484" y="426" textLength="32">reverse</text></g>
<g id="br-crack"><rect class="bx" x="696" y="416" width="26" height="14"/><text class="r" x="698" y="426" textLength="22">crack</text></g>
<g id="br-wage"><rect class="bx" x="471" y="437" width="26" height="14"/><text class="u" x="473" y="447" textLength="22">wage</text></g>
<g id="br-internet"><rect class="bx" x="707" y="436" width="35" height="14"/><text class="u" x="709" y="446" textLength="31">internet</text></g>
<g id="br-narrow"><rect class="bx" x="456" y="460" width="34" height="14"/><text class="k" x="458" y="470" textLength="30">narrow</text></g>
<g id="br-bid"><rect class="bx" x="727" y="460" width="17" height="14"/><text class="k" x="729" y="470" textLength="13">bid</text></g>
<g id="br-retire"><rect class="bx" x="453" y="485" width="26" height="14"/><text class="u" x="455" y="495" textLength="22">retire</text></g>
<g id="br-bridge"><rect class="bx" x="728" y="485" width="30" height="14"/><text class="k" x="730" y="495" textLength="26">bridge</text></g>
<g id="br-income"><rect class="bx" x="446" y="511" width="34" height="14"/><text class="u" x="448" y="521" textLength="30">income</text></g>
<g id="br-reduce"><rect class="bx" x="730" y="511" width="32" height="14"/><text class="k" x="732" y="521" textLength="28">reduce</text></g>
<g id="br-large"><rect class="bx" x="453" y="536" width="25" height="14"/><text class="k" x="455" y="546" textLength="21">large</text></g>
<g id="br-structure"><rect class="bx" x="723" y="536" width="40" height="14"/><text class="k" x="725" y="546" textLength="37">structure</text></g>
<g id="br-gender"><rect class="bx" x="456" y="561" width="34" height="14"/><text class="k" x="458" y="571" textLength="30">gender</text></g>
<g id="br-skill"><rect class="bx" x="726" y="561" width="20" height="14"/><text class="u" x="728" y="571" textLength="16">skill</text></g>
<g id="br-attack"><rect class="bx" x="470" y="585" width="29" height="14"/><text class="r" x="472" y="595" textLength="25">attack</text></g>
<g id="br-promote"><rect class="bx" x="706" y="585" width="38" height="14"/><text class="u" x="708" y="595" textLength="34">promote</text></g>
<g id="br-receive"><rect class="bx" x="484" y="605" width="34" height="14"/><text class="u" x="486" y="615" textLength="30">receive</text></g>
<g id="br-unconscious"><rect class="bx" x="681" y="605" width="56" height="14"/><text class="r" x="683" y="615" textLength="52">unconscious</text></g>
<g id="br-heart"><rect class="bx" x="507" y="623" width="25" height="14"/><text class="u" x="509" y="633" textLength="21">heart</text></g>
<g id="br-bias"><rect class="bx" x="679" y="623" width="21" height="14"/><text class="r" x="681" y="633" textLength="17">bias</text></g>
<g id="br-nation"><rect class="bx" x="527" y="636" width="29" height="14"/><text class="k" x="529" y="646" textLength="25">nation</text></g>
<g id="br-drivel"><rect class="bx" x="654" y="636" width="27" height="14"/><text class="k" x="656" y="646" textLength="23">drivel</text></g>
<g id="br-initial"><rect class="bx" x="553" y="646" width="25" height="14"/><text class="k" x="555" y="656" textLength="21">initial</text></g>
<g id="br-begin"><rect class="bx" x="578" y="651" width="27" height="14"/><text class="u" x="580" y="661" textLength="23">begin</text></g>
<g id="br-due"><rect class="bx" x="608" y="651" width="19" height="14"/><text class="k" x="610" y="661" textLength="15">due</text></g>
<g id="br-pay"><rect class="bx" x="634" y="646" width="19" height="14"/><text class="u" x="636" y="656" textLength="15">pay</text></g>
</g>
</svg>
